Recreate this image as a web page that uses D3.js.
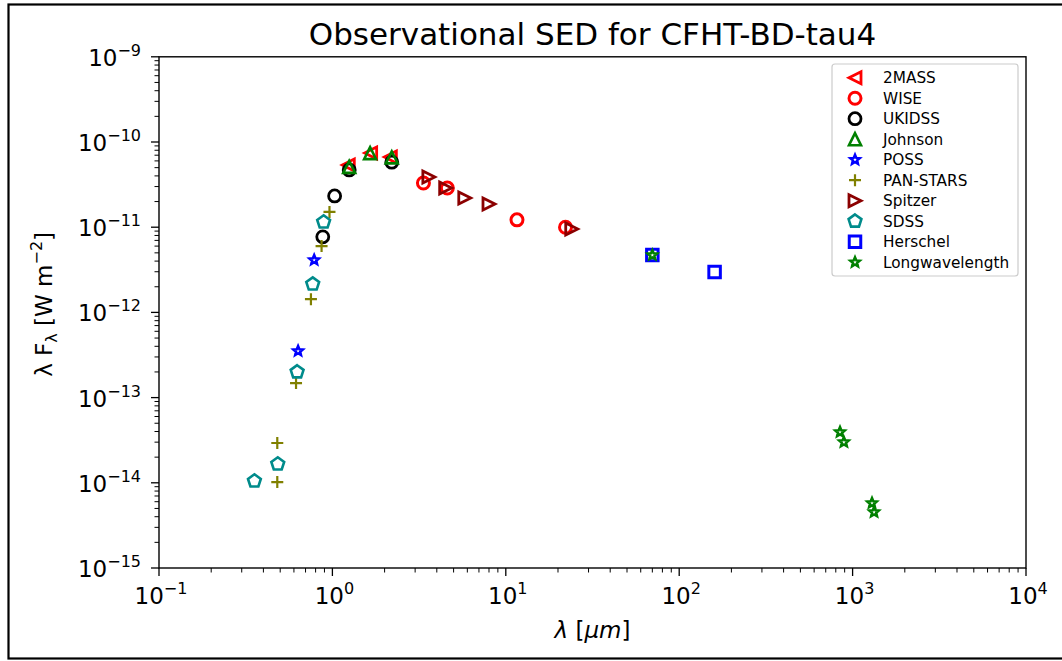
<!DOCTYPE html>
<html>
<head>
<meta charset="utf-8">
<script src="https://cdn.jsdelivr.net/npm/d3@7"></script>
<style>
  html, body { margin: 0; padding: 0; background: #fff; }
  svg { display: block; font-family: "DejaVu Sans", sans-serif; }
</style>
</head>
<body>
<svg id="chart" width="1062" height="661"></svg>
<script>
// ---------------- data ----------------
const seriesNames = ["2MASS","WISE","UKIDSS","Johnson","POSS","PAN-STARS","Spitzer","SDSS","Herschel","Longwavelength"];

const twomassWave = [1.235, 1.662, 2.159];
const twomassFlux = [5.37e-11, 7.43e-11, 6.67e-11];

const wiseWave = [3.35, 4.6, 11.6, 22.1];
const wiseFlux = [3.3e-11, 2.88e-11, 1.22e-11, 1.0e-11];

const ukidssWave = [0.88, 1.03, 1.25, 2.2];
const ukidssFlux = [7.7e-12, 2.33e-11, 4.7e-11, 5.8e-11];

const johnsonWave = [1.25, 1.65, 2.2];
const johnsonFlux = [5.1e-11, 7.4e-11, 6.6e-11];

const possWave = [0.634, 0.785];
const possFlux = [3.52e-13, 4.12e-12];

const panstarrsWave = [0.481, 0.481, 0.617, 0.752, 0.866, 0.962];
const panstarrsFlux = [2.93e-14, 1.02e-14, 1.48e-13, 1.43e-12, 6.0e-12, 1.51e-11];

const spitzerWave = [3.6, 4.5, 5.8, 8.0, 24.0];
const spitzerFlux = [3.88e-11, 2.88e-11, 2.2e-11, 1.87e-11, 9.5e-12];

const sdssWave = [0.355, 0.484, 0.626, 0.77, 0.89];
const sdssFlux = [1.05e-14, 1.66e-14, 2.0e-13, 2.15e-12, 1.15e-11];

const herschelWave = [70, 160];
const herschelFlux = [4.72e-12, 2.98e-12];

const longWave = [70, 846, 891, 1294, 1330];
const longFlux = [4.7e-12, 3.94e-14, 3.0e-14, 5.78e-15, 4.53e-15];

const xTickExps = [-1, 0, 1, 2, 3, 4];
const yTickExps = [-15, -14, -13, -12, -11, -10, -9];

const titleText = "Observational SED for CFHT-BD-tau4";

// ---------------- layout ----------------
const L = 159, R = 1026, T = 56.8, B = 568;
const svg = d3.select("#chart");

const x = d3.scaleLog().domain([1e-1, 1e4]).range([L, R]);
const y = d3.scaleLog().domain([1e-15, 1e-9]).range([B, T]);

// outer frame
svg.append("rect").attr("x", 8.5).attr("y", 4.5).attr("width", 1070).attr("height", 654)
  .attr("fill", "none").attr("stroke", "#000").attr("stroke-width", 2.2);

// ---------------- marker paths ----------------
function poly(pts) { return "M" + pts.map(p => p[0].toFixed(2) + "," + p[1].toFixed(2)).join("L") + "Z"; }
function markerPath(type, s) {
  const r = s / 2;
  switch (type) {
    case "tri-left": return poly([[-r, 0], [r, -r], [r, r]]);
    case "tri-right": return poly([[r, 0], [-r, -r], [-r, r]]);
    case "tri-up": return poly([[0, -r], [-r, r], [r, r]]);
    case "circle": return d3.arc()({innerRadius: 0, outerRadius: r, startAngle: 0, endAngle: 2 * Math.PI});
    case "square": return poly([[-r, -r], [r, -r], [r, r], [-r, r]]);
    case "plus": return `M${-r},0L${r},0M0,${-r}L0,${r}`;
    case "pentagon": {
      const pts = d3.range(5).map(i => { const a = -Math.PI / 2 + i * 2 * Math.PI / 5; return [r * Math.cos(a), r * Math.sin(a)]; });
      return poly(pts);
    }
    case "star": {
      const ri = r * 0.45;
      const pts = d3.range(10).map(i => { const a = -Math.PI / 2 + i * Math.PI / 5; const rr = i % 2 ? ri : r; return [rr * Math.cos(a), rr * Math.sin(a)]; });
      return poly(pts);
    }
  }
}

const series = [
  {name: "2MASS", wave: twomassWave, flux: twomassFlux, type: "tri-left", color: "#ff0000", size: 12, sw: 2.8},
  {name: "WISE", wave: wiseWave, flux: wiseFlux, type: "circle", color: "#ff0000", size: 12, sw: 3},
  {name: "UKIDSS", wave: ukidssWave, flux: ukidssFlux, type: "circle", color: "#000000", size: 12, sw: 2.8},
  {name: "Johnson", wave: johnsonWave, flux: johnsonFlux, type: "tri-up", color: "#008000", size: 12, sw: 2.6},
  {name: "POSS", wave: possWave, flux: possFlux, type: "star", color: "#0000ff", size: 10, sw: 2.5},
  {name: "PAN-STARS", wave: panstarrsWave, flux: panstarrsFlux, type: "plus", color: "#808000", size: 12, sw: 2.2},
  {name: "Spitzer", wave: spitzerWave, flux: spitzerFlux, type: "tri-right", color: "#8b0000", size: 12, sw: 2.8},
  {name: "SDSS", wave: sdssWave, flux: sdssFlux, type: "pentagon", color: "#008b8b", size: 13.5, sw: 2.6},
  {name: "Herschel", wave: herschelWave, flux: herschelFlux, type: "square", color: "#0000ff", size: 11.5, sw: 3},
  {name: "Longwavelength", wave: longWave, flux: longFlux, type: "star", color: "#008000", size: 10, sw: 2.5},
];

// ---------------- ticks ----------------
const axisG = svg.append("g");
function supLabel(g, exp, xPos, yPos, anchor) {
  const t = g.append("text").attr("x", xPos).attr("y", yPos).attr("text-anchor", anchor)
    .attr("font-size", 23).attr("fill", "#000");
  t.append("tspan").text("10");
  t.append("tspan").attr("dy", -10).attr("font-size", 16).text(exp < 0 ? "\u2212" + Math.abs(exp) : String(exp));
  return t;
}
// x ticks
xTickExps.forEach(e => {
  const v = Math.pow(10, e), px = x(v);
  axisG.append("line").attr("x1", px).attr("x2", px).attr("y1", B).attr("y2", B + 8).attr("stroke", "#000").attr("stroke-width", 1.3);
  supLabel(axisG, e, px + 2, B + 36, "middle");
  if (e < 4) d3.range(2, 10).forEach(k => {
    const mx = x(k * v);
    axisG.append("line").attr("x1", mx).attr("x2", mx).attr("y1", B).attr("y2", B + 4.5).attr("stroke", "#000").attr("stroke-width", 1);
  });
});
// y ticks
yTickExps.forEach(e => {
  const v = Math.pow(10, e), py = y(v);
  axisG.append("line").attr("x1", L - 8).attr("x2", L).attr("y1", py).attr("y2", py).attr("stroke", "#000").attr("stroke-width", 1.3);
  supLabel(axisG, e, L - 18, py + 9, "end");
  if (e < -9) d3.range(2, 10).forEach(k => {
    const my = y(k * v);
    axisG.append("line").attr("x1", L - 4.5).attr("x2", L).attr("y1", my).attr("y2", my).attr("stroke", "#000").attr("stroke-width", 1);
  });
});

// ---------------- markers ----------------
const plotG = svg.append("g");
series.forEach(s => {
  const pts = s.wave.map((w, i) => [w, s.flux[i]]);
  plotG.selectAll(null).data(pts).enter().append("path")
    .attr("transform", d => `translate(${x(d[0])},${y(d[1])})`)
    .attr("d", markerPath(s.type, s.size))
    .attr("fill", "none")
    .attr("stroke", s.color)
    .attr("stroke-width", s.sw)
    .attr("stroke-linejoin", "miter");
});

// spines
svg.append("rect").attr("x", L).attr("y", T).attr("width", R - L).attr("height", B - T)
  .attr("fill", "none").attr("stroke", "#000").attr("stroke-width", 1.4);

// ---------------- legend ----------------
const lg = svg.append("g");
const lgX = 832, lgY = 64, lgW = 186, lgH = 212, rowH = 20.5;
lg.append("rect").attr("x", lgX).attr("y", lgY).attr("width", lgW).attr("height", lgH).attr("rx", 3)
  .attr("fill", "#fff").attr("fill-opacity", 0.8).attr("stroke", "#cccccc").attr("stroke-width", 1.2);
series.forEach((s, i) => {
  const cy = 77.7 + i * rowH;
  lg.append("path").attr("transform", `translate(855,${cy})`).attr("d", markerPath(s.type, s.size))
    .attr("fill", "none").attr("stroke", s.color).attr("stroke-width", s.sw);
  lg.append("text").attr("x", 883).attr("y", cy + 5.5).attr("font-size", 15.3).attr("fill", "#000").text(s.name);
});

// ---------------- titles ----------------
svg.append("text").attr("x", (L + R) / 2).attr("y", 45).attr("text-anchor", "middle")
  .attr("font-size", 31).attr("fill", "#000").text(titleText);

svg.append("text").attr("x", (L + R) / 2).attr("y", 638).attr("text-anchor", "middle")
  .attr("font-size", 23).attr("fill", "#000")
  .call(t => { t.append("tspan").attr("font-style", "italic").text("\u03bb"); t.append("tspan").text(" ["); t.append("tspan").attr("font-style", "italic").text("\u03bcm"); t.append("tspan").text("]"); });

const yl = svg.append("text").attr("transform", `translate(52,${(T + B) / 2 - 8}) rotate(-90)`).attr("text-anchor", "middle")
  .attr("font-size", 23).attr("fill", "#000");
yl.append("tspan").text("\u03bb F");
yl.append("tspan").attr("font-size", 16).attr("dy", 5).text("\u03bb");
yl.append("tspan").attr("dy", -5).text(" [W m");
yl.append("tspan").attr("font-size", 16).attr("dy", -10).text("\u22122");
yl.append("tspan").attr("dy", 10).text("]");
</script>
</body>
</html>
